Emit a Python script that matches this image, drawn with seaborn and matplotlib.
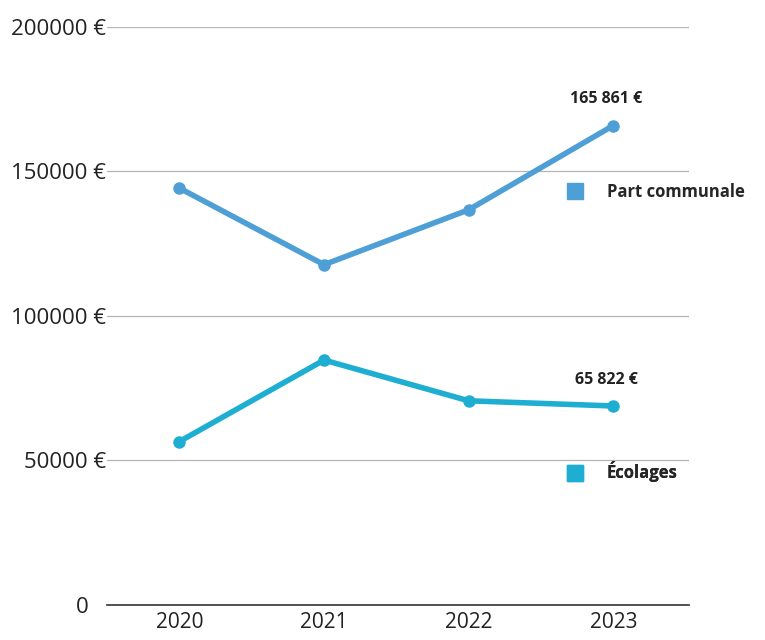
import pandas as pd
import matplotlib
matplotlib.use('Agg')
import matplotlib.pyplot as plt
import seaborn as sns
from matplotlib.lines import Line2D

years = ['2020', '2021', '2022', '2023']
part_communale = [144200, 117700, 136700, 165861]
ecolages = [56500, 84700, 70600, 68800]
label_part = '165 861 €'
label_eco = '65 822 €'
yticks = [0, 50000, 100000, 150000, 200000]

df = pd.DataFrame({
    'annee': years * 2,
    'montant': part_communale + ecolages,
    'serie': ['Part communale'] * 4 + ['Écolages'] * 4,
})

colors = {'Part communale': '#4d9fd6', 'Écolages': '#1eaed2'}

sns.set_theme(style='white')
plt.rcParams['font.family'] = ['Open Sans', 'DejaVu Sans']

fig = plt.figure(figsize=(7.65, 6.4), dpi=100)
ax = fig.add_axes([0.14, 0.055, 0.76, 0.903])

sns.lineplot(data=df, x='annee', y='montant', hue='serie', palette=colors,
             marker='o', markersize=9, markeredgewidth=0, linewidth=4,
             legend=False, ax=ax, sort=False)

ax.set_xlim(-0.5, 3.52)
ax.set_ylim(0, 200000)
ax.set_yticks(yticks)
ax.set_yticklabels([('%d €' % v) if v else '0   ' for v in yticks])
ax.yaxis.grid(True, color='#b5b5b5', linewidth=0.9)
ax.set_axisbelow(True)
ax.tick_params(axis='y', length=0, pad=1, labelsize=16, colors='#222222')
ax.tick_params(axis='x', length=0, pad=5, labelsize=15, colors='#222222')
ax.set_xlabel('')
ax.set_ylabel('')
for s in ['top', 'right', 'left']:
    ax.spines[s].set_visible(False)
ax.spines['bottom'].set_color('#333333')
ax.spines['bottom'].set_linewidth(1.2)

# value labels on last point
ax.annotate(label_part, (3, part_communale[-1]), xytext=(-5, 19), textcoords='offset points',
            ha='center', va='center', fontsize=11.5, fontweight='bold', color='#222222')
ax.annotate(label_eco, (3, ecolages[-1]), xytext=(-5, 19), textcoords='offset points',
            ha='center', va='center', fontsize=11.5, fontweight='bold', color='#222222')

# two separate legend boxes next to the lines
for name, ypos in [('Part communale', 0.715), ('Écolages', 0.23)]:
    h = Line2D([], [], marker='s', linestyle='none', markersize=12, color=colors[name])
    leg = ax.legend([h], [name], loc='center left', bbox_to_anchor=(0.765, ypos),
                    frameon=False, handletextpad=0.9, borderaxespad=0,
                    prop={'weight': 'bold', 'size': 12})
    ax.add_artist(leg)

plt.savefig('out.png', dpi=100)
